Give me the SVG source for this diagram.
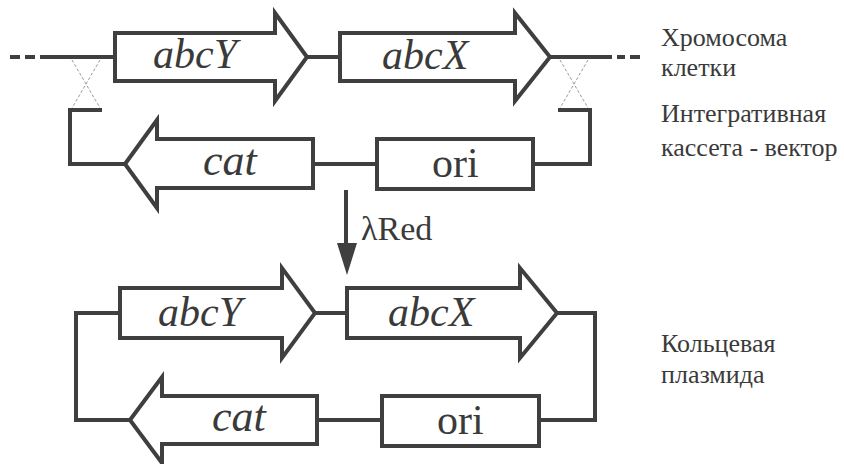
<svg xmlns="http://www.w3.org/2000/svg" width="844" height="464" viewBox="0 0 844 464">
  <style>
    .gene { fill: #ffffff; stroke: #3f3f3f; stroke-width: 4; stroke-linejoin: miter; }
    .wire { fill: none; stroke: #3f3f3f; stroke-width: 4; stroke-linejoin: miter; }
    .cross { fill: none; stroke: #9a9a9a; stroke-width: 1; stroke-dasharray: 3 2; }
    text { font-family: 'Liberation Serif', 'Times New Roman', serif; fill: #3a3a3a; }
    .gname { font-style: italic; }
    .side { font-size: 26px; }
  </style>

  <!-- connectors: chromosome, cassette and plasmid backbone -->
  <g id="connectors">
    <!-- chromosome -->
    <path class="wire" d="M10 57 H20 M25 57 H35 M40 57 H115"/>
    <path class="wire" d="M307 57 H340"/>
    <path class="wire" d="M550 57 H612 M617 57 H625 M630 57 H640"/>
    <!-- crossover marks -->
    <path class="cross" d="M72 60 L100 108 M100 60 L72 108"/>
    <path class="cross" d="M560 60 L588 108 M588 60 L560 108"/>
    <!-- integrative cassette -->
    <path class="wire" d="M102 110 H70 V164 H125"/>
    <path class="wire" d="M313 164 H377"/>
    <path class="wire" d="M533 164 H590 V110 H558"/>
    <!-- lambda Red step -->
    <path class="wire" d="M346 190 V246"/>
    <polygon points="337,243 357,243 347,275" fill="#3f3f3f"/>
    <!-- circular plasmid -->
    <path class="wire" d="M120 313 H76 V420 H130"/>
    <path class="wire" d="M315 313 H347"/>
    <path class="wire" d="M557 313 H595 V420 H539"/>
    <path class="wire" d="M317 420 H382"/>
  </g>

  <!-- chromosome genes -->
  <g id="chr-abcY">
    <polygon class="gene" points="115,33 275,33 275,13 307,57 275,101 275,81 115,81"/>
    <text class="gname" x="153" y="68" font-size="42">abcY</text>
  </g>
  <g id="chr-abcX">
    <polygon class="gene" points="340,33 515,33 515,13 550,57 515,101 515,81 340,81"/>
    <text class="gname" x="382" y="69" font-size="42">abcX</text>
  </g>

  <!-- cassette elements -->
  <g id="cas-cat">
    <polygon class="gene" points="125,164 157,120 157,139 313,139 313,188 157,188 157,208"/>
    <text class="gname" x="203" y="175" font-size="44">cat</text>
  </g>
  <g id="cas-ori">
    <rect class="gene" x="377" y="139" width="156" height="50"/>
    <text x="432" y="177" font-size="42">ori</text>
  </g>

  <g id="lambda-red">
    <text x="361" y="240" font-size="34">λRed</text>
  </g>

  <!-- plasmid elements -->
  <g id="pl-abcY">
    <polygon class="gene" points="120,288 282,288 282,268 315,313 282,358 282,338 120,338"/>
    <text class="gname" x="158" y="326" font-size="42">abcY</text>
  </g>
  <g id="pl-abcX">
    <polygon class="gene" points="347,288 520,288 520,268 557,313 520,358 520,338 347,338"/>
    <text class="gname" x="388" y="326" font-size="42">abcX</text>
  </g>
  <g id="pl-cat">
    <polygon class="gene" points="130,420 162,377 162,396 317,396 317,444 162,444 162,463"/>
    <text class="gname" x="212" y="431" font-size="44">cat</text>
  </g>
  <g id="pl-ori">
    <rect class="gene" x="382" y="396" width="157" height="50"/>
    <text x="437" y="434" font-size="42">ori</text>
  </g>

  <!-- side captions -->
  <g id="cap-chromosome">
    <text class="side" x="661" y="46">Хромосома</text>
    <text class="side" x="661" y="76">клетки</text>
  </g>
  <g id="cap-cassette">
    <text class="side" x="661" y="122">Интегративная</text>
    <text class="side" x="661" y="156">кассета - вектор</text>
  </g>
  <g id="cap-plasmid">
    <text class="side" x="661" y="352">Кольцевая</text>
    <text class="side" x="661" y="383">плазмида</text>
  </g>
</svg>
